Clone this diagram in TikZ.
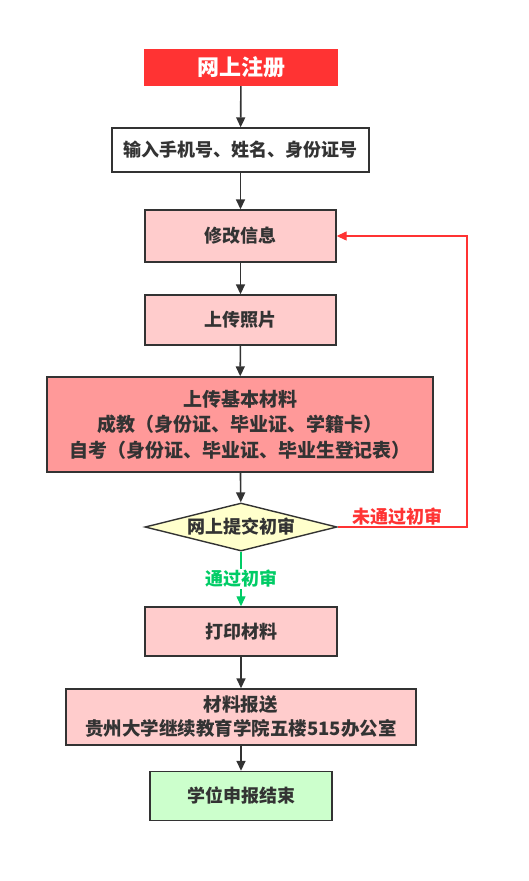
\documentclass[tikz,border=0pt]{standalone}
\usepackage{fontspec}
\setmainfont{Noto Sans CJK SC}
\usetikzlibrary{arrows.meta, shapes.geometric, positioning}

\definecolor{boxline}{HTML}{333333}
\definecolor{regred}{HTML}{FF3333}
\definecolor{lightpink}{HTML}{FFCCCC}
\definecolor{darkpink}{HTML}{FF9999}
\definecolor{checkyellow}{HTML}{FFFFCC}
\definecolor{donegreen}{HTML}{CCFFCC}
\definecolor{passgreen}{HTML}{00CC66}

\begin{document}
\begin{tikzpicture}[x=1pt, y=-1pt,
    stepbox/.style={draw=boxline, line width=1.4pt, text=boxline, font=\fontsize{18}{24}\selectfont\bfseries, align=center, inner sep=0pt},
    flow/.style={draw=boxline, line width=1.6pt, -{Triangle[length=10pt,width=9pt]}},
    failline/.style={draw=regred, line width=1.3pt, -{Triangle[length=10pt,width=9pt]}},
    passline/.style={draw=passgreen, line width=1.3pt, -{Triangle[length=10pt,width=9pt]}}
]

\useasboundingbox (0,0) rectangle (528,881);

\node[fill=regred, text=white, inner sep=0pt, minimum width=194pt, minimum height=37pt, font=\fontsize{22}{24}\selectfont\bfseries] (reg) at (241,67.5) {网上注册};
\node[stepbox, fill=white, minimum width=257pt, minimum height=44pt] (input) at (240.5,150) {输入手机号、姓名、身份证号};
\node[stepbox, fill=lightpink, minimum width=191pt, minimum height=52pt] (edit) at (240.5,236) {修改信息};
\node[stepbox, fill=lightpink, minimum width=191pt, minimum height=50pt] (photo) at (240.5,320) {上传照片};
\node[stepbox, fill=darkpink, minimum width=386pt, minimum height=95pt, font=\fontsize{19}{25.5}\selectfont\bfseries] (material) at (240,424.5) {上传基本材料\\成教（身份证、毕业证、学籍卡）\\自考（身份证、毕业证、毕业生登记表）};
\node[stepbox, shape=diamond, aspect=4, fill=checkyellow, minimum width=192pt, minimum height=48pt] (check) at (241,527) {网上提交初审};
\node[stepbox, fill=lightpink, minimum width=192pt, minimum height=49pt] (print) at (241,631.5) {打印材料};
\node[stepbox, fill=lightpink, minimum width=350pt, minimum height=56pt, font=\fontsize{18.5}{24}\selectfont\bfseries] (send) at (241,717) {材料报送\\贵州大学继续教育学院五楼515办公室};
\node[stepbox, fill=donegreen, minimum width=182pt, minimum height=49pt] (done) at (241,796) {学位申报结束};

% main flow
\draw[flow] (reg) -- (input);
\draw[flow] (input) -- (edit);
\draw[flow] (edit) -- (photo);
\draw[flow] (photo) -- (material);
\draw[flow] (material) -- (check);
\draw[flow] (print) -- (send);
\draw[flow] (send) -- (done);

% review result
\draw[failline] (check.east) -- (467,527) |- (edit.east);
\node[text=regred, font=\fontsize{18}{20}\selectfont\bfseries] (failtext) at (397,517) {未通过初审};
\draw[passline] (check.south) -- (print.north) node[midway, fill=white, text=passgreen, inner sep=1pt, font=\fontsize{18}{20}\selectfont\bfseries] (passtext) {通过初审};

\end{tikzpicture}
\end{document}
